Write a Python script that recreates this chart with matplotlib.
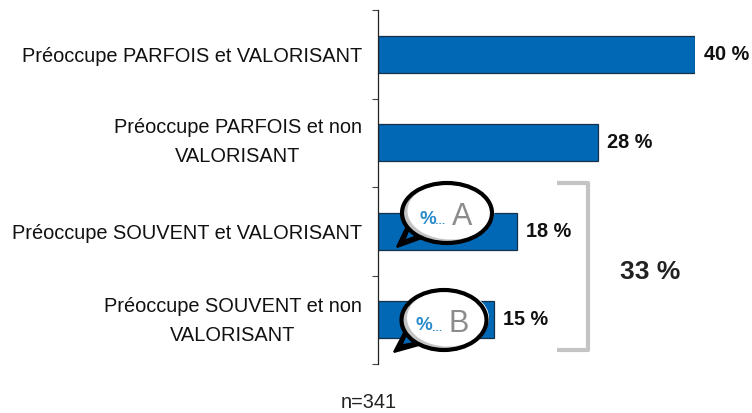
import numpy as np
import matplotlib
matplotlib.use("Agg")
import matplotlib.pyplot as plt
from matplotlib.patches import Ellipse, PathPatch
from matplotlib.path import Path
from matplotlib.transforms import Affine2D

labels = [
    "Préoccupe PARFOIS et VALORISANT",
    "Préoccupe PARFOIS et non\nVALORISANT",
    "Préoccupe SOUVENT et VALORISANT",
    "Préoccupe SOUVENT et non\nVALORISANT",
]
values = [40, 27.8, 17.5, 14.6]
value_labels = ["40 %", "28 %", "18 %", "15 %"]
total_label = "33 %"
sample_label = "n=341"

BLUE = "#0068b4"
GREY = "#c4c4c4"

plt.rcParams["font.family"] = ["Liberation Sans", "DejaVu Sans"]

W, H = 752, 413
fig = plt.figure(figsize=(W / 100, H / 100), dpi=100, facecolor="white")
ax = fig.add_axes([378 / W, 1 - 364 / H, 317 / W, 354 / H])

pos = np.arange(len(values)) + 0.5
ax.barh(pos, values, height=0.415, color=BLUE, edgecolor="#16324a", linewidth=0.9, zorder=2)
ax.set_xlim(0, 40)
ax.set_ylim(4, 0)

for s in ["top", "right", "bottom"]:
    ax.spines[s].set_visible(False)
ax.spines["left"].set_linewidth(0.9)
ax.spines["left"].set_color("#222222")
ax.set_xticks([])
ax.set_yticks(range(5), [""] * 5)
ax.tick_params(axis="y", which="major", length=4, width=0.8, color="#444444")

# two-line labels sit a little above their bar
label_nudge = np.array([0, -0.088, 0, -0.067])
ax.set_yticks(pos + label_nudge, labels, minor=True)
ax.tick_params(axis="y", which="minor", length=0, pad=11.5, labelsize=14.4, labelcolor="#111111")
for t in ax.get_yticklabels(minor=True):
    t.set_multialignment("center")
    t.set_linespacing(1.65)

for y, v, txt in zip(pos, values, value_labels):
    ax.annotate(txt, (v, y), xytext=(6.5, 0), textcoords="offset points", va="center",
                fontsize=14.3, fontweight="bold", color="#111111", annotation_clip=False)

# overlays placed in image pixels, y going down
px = Affine2D().scale(1, -1).translate(0, H)


def bubble(cx, cy, w, h, tip, base1, base2, letter, z=5):
    # tail, grey shade, white interior, then the black outline on top
    tail = Path([base1, tip, base2, base1], closed=True)
    fig.add_artist(PathPatch(tail, transform=px, facecolor="black", edgecolor="black",
                             linewidth=1.5, joinstyle="miter", zorder=z))
    inner = Path([(base1[0] + 3, base1[1] + 2), (tip[0] + 9, tip[1] - 8), (base2[0] - 5, base2[1] - 3)])
    fig.add_artist(PathPatch(inner, transform=px, facecolor=BLUE, edgecolor="none", zorder=z))
    fig.add_artist(Ellipse((cx, cy), w - 2, h - 2, transform=px, facecolor=GREY,
                           edgecolor="none", zorder=z + 1))
    fig.add_artist(Ellipse((cx + 4, cy - 2), w - 5, h - 5, transform=px, facecolor="white",
                           edgecolor="none", zorder=z + 2))
    fig.add_artist(Ellipse((cx, cy), w - 2, h - 2, transform=px, facecolor="none",
                           edgecolor="black", linewidth=3, zorder=z + 3))
    fig.text((cx - 28) / W, 1 - (cy + 6) / H, "%", fontsize=13.5, fontweight="bold", color="#2a8acb",
             ha="left", va="center", zorder=z + 4)
    fig.text((cx - 12) / W, 1 - (cy + 8) / H, "…", fontsize=7.5, fontweight="bold", color="#2a8acb",
             ha="left", va="center", zorder=z + 4)
    fig.text((cx + 15) / W, 1 - (cy + 4) / H, letter, fontsize=22, color="#8c8c8c",
             ha="center", va="center", zorder=z + 4)


bubble(447, 213, 92, 62, (397, 247), (408, 224), (422, 238), "A")
bubble(444, 320, 87, 62, (394, 352), (405, 331), (419, 345), "B")

bracket = Path([(557, 183), (588, 183), (588, 350), (557, 350)])
fig.add_artist(PathPatch(bracket, transform=px, facecolor="none", edgecolor=GREY,
                         linewidth=3, joinstyle="round", capstyle="butt"))

fig.text(650 / W, 1 - 272 / H, total_label, fontsize=19, fontweight="bold", color="#222222",
         ha="center", va="center")
fig.text(369 / W, 1 - 403 / H, sample_label, fontsize=14.3, color="#222222", ha="center", va="center")

fig.savefig("out.png", dpi=100, facecolor="white")
